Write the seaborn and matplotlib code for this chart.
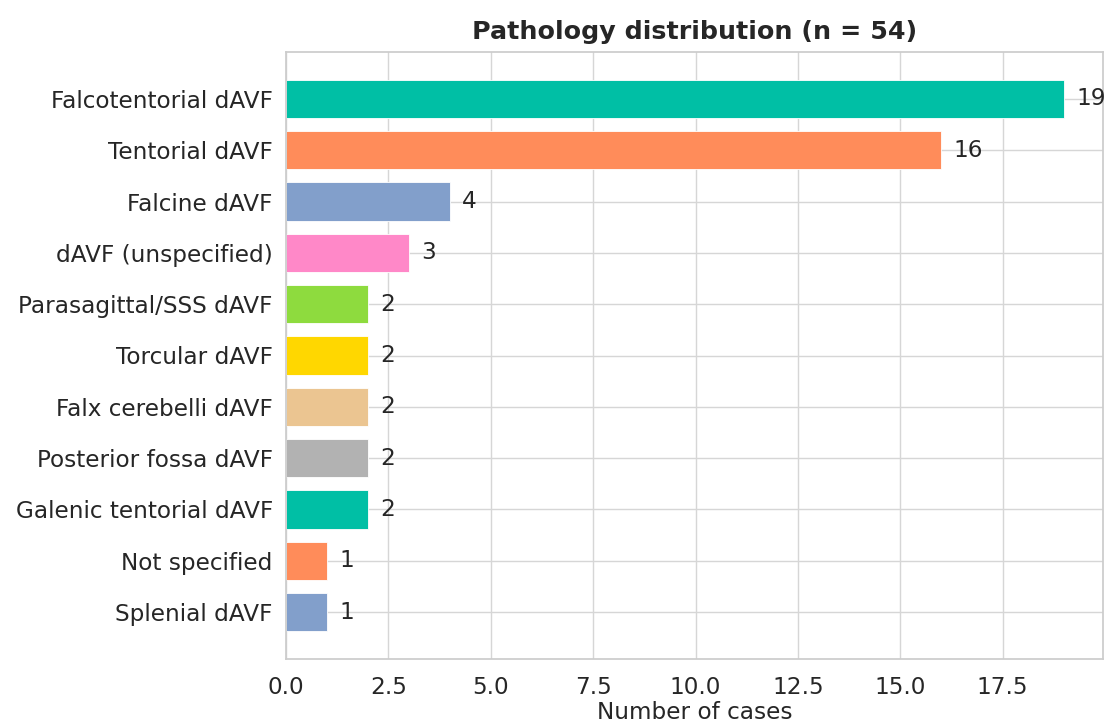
import matplotlib
matplotlib.use("Agg")
import matplotlib.pyplot as plt
import seaborn as sns
import pandas as pd

categories = ["Falcotentorial dAVF", "Tentorial dAVF", "Falcine dAVF", "dAVF (unspecified)",
              "Parasagittal/SSS dAVF", "Torcular dAVF", "Falx cerebelli dAVF",
              "Posterior fossa dAVF", "Galenic tentorial dAVF", "Not specified", "Splenial dAVF"]
counts = [19, 16, 4, 3, 2, 2, 2, 2, 2, 1, 1]
colors = ["#00bfa5", "#ff8c5a", "#829fcb", "#ff88c8", "#8edb3e", "#ffd700",
          "#ebc591", "#b2b2b2", "#00bfa5", "#ff8c5a", "#829fcb"]
title = "Pathology distribution (n = 54)"
xlabel = "Number of cases"

sns.set_theme(style="whitegrid")
plt.rcParams['font.family'] = ['DejaVu Sans']

df = pd.DataFrame({"cat": categories, "n": counts})

fig = plt.figure(figsize=(11.06, 7.24), dpi=100)
ax = fig.add_axes([286/1106, 1-659/724, (1103-286)/1106, (659-52)/724])

sns.barplot(data=df, x="n", y="cat", hue="cat", palette=colors, orient="h",
            width=0.75, saturation=1, legend=False, ax=ax,
            edgecolor="white", linewidth=0.6)

nb = len(categories)
half = 0.375
span = (nb - 1) + 2 * half
ax.set_ylim(nb - 1 + half + 0.05 * span, -half - 0.05 * span)
ax.set_xlim(0, max(counts) * 1.05)

for i, v in enumerate(counts):
    ax.text(v + 0.3, i, str(v), va="center", ha="left", fontsize=16.7, color="#262626")

ax.set_title(title, fontsize=18.3, fontweight="bold", pad=9)
ax.set_xlabel(xlabel, fontsize=16.7, labelpad=2)
ax.set_ylabel("")
ax.tick_params(axis="both", labelsize=16.7)
ax.tick_params(axis="x", pad=6)
ax.grid(True, axis="both", color="#d6d6d6")
ax.set_axisbelow(True)

fig.savefig("out.png", dpi=100)
